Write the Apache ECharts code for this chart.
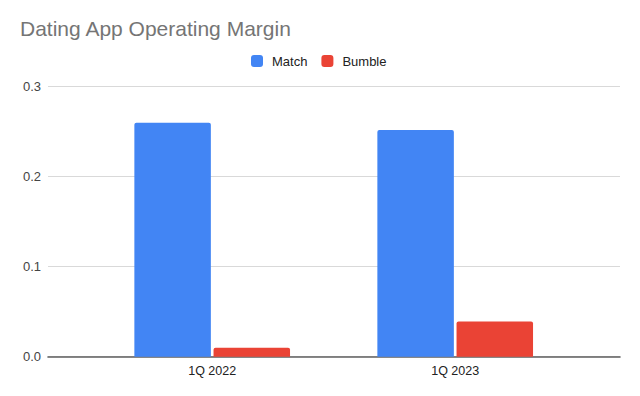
<!DOCTYPE html>
<html>
<head>
<meta charset="utf-8">
<script src="https://cdn.jsdelivr.net/npm/echarts@6/dist/echarts.min.js"></script>
<style>
  html, body { margin: 0; padding: 0; background: #fff; }
  #chart { width: 640px; height: 396px; }
</style>
</head>
<body>
<div id="chart"></div>
<script>
const categories = ['1Q 2022', '1Q 2023'];
const matchValues = [0.26, 0.252];
const bumbleValues = [0.01, 0.039];
const yTicks = { min: 0, max: 0.3, interval: 0.1 };

const font = '"Liberation Sans", Arial, sans-serif';
const chart = echarts.init(document.getElementById('chart'), null, { renderer: 'svg' });

chart.setOption({
  backgroundColor: '#fff',
  animation: false,
  title: {
    text: 'Dating App Operating Margin',
    left: 15, top: 13,
    textStyle: { color: '#757575', fontFamily: font, fontSize: 21, fontWeight: 'normal' },
  },
  legend: {
    data: ['Match', 'Bumble'],
    left: 246, top: 49.5,
    itemWidth: 12, itemHeight: 12, itemGap: 14,
    icon: 'roundRect',
    textStyle: { color: '#222', fontFamily: font, fontSize: 13, padding: [0, 0, 0, 4] },
  },
  grid: [
    // frame grid: gridlines and baseline across the full width
    { left: 48, right: 20, top: 86.7, bottom: 39.3 },
    // bar grid: narrower band holding the two categories
    { left: 90.7, right: 63.3, top: 86.7, bottom: 39.3 },
  ],
  xAxis: [
    {
      gridIndex: 0, type: 'value', min: 0, max: 1,
      axisLine: { show: true, lineStyle: { color: '#5f5f5f', width: 1.6 } },
      axisTick: { show: false }, axisLabel: { show: false }, splitLine: { show: false },
    },
    {
      gridIndex: 1, type: 'category', data: categories,
      axisLine: { show: false }, axisTick: { show: false },
      axisLabel: { color: '#222', fontFamily: font, fontSize: 12.5, margin: 8 },
    },
  ],
  yAxis: [
    {
      gridIndex: 0, type: 'value', min: yTicks.min, max: yTicks.max, interval: yTicks.interval,
      axisLine: { show: false }, axisTick: { show: false },
      axisLabel: { color: '#444', fontFamily: font, fontSize: 13, margin: 7, formatter: v => v.toFixed(1) },
      splitLine: { lineStyle: { color: '#d9d9d9', width: 1 } },
    },
    {
      gridIndex: 1, type: 'value', min: yTicks.min, max: yTicks.max, interval: yTicks.interval,
      show: false, splitLine: { show: false },
    },
  ],
  series: [
    {
      name: 'Match', type: 'bar', xAxisIndex: 1, yAxisIndex: 1, data: matchValues,
      barWidth: 76.5, barGap: '3.5%',
      itemStyle: { color: '#4285f4', borderRadius: [2, 2, 0, 0] },
    },
    {
      name: 'Bumble', type: 'bar', xAxisIndex: 1, yAxisIndex: 1, data: bumbleValues,
      barWidth: 76.5,
      itemStyle: { color: '#ea4335', borderRadius: [2, 2, 0, 0] },
    },
  ],
});
</script>
</body>
</html>
